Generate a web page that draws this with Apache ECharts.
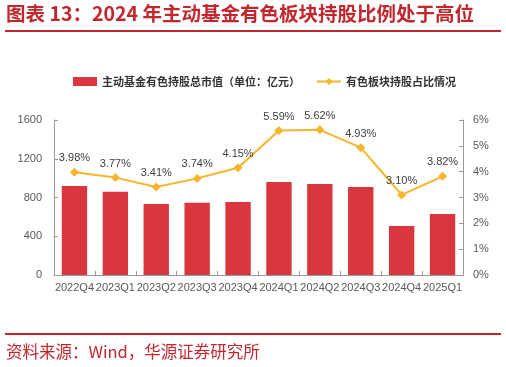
<!DOCTYPE html>
<html><head><meta charset="utf-8">
<script src="https://cdn.jsdelivr.net/npm/echarts@6/dist/echarts.min.js"></script>
<style>html,body{margin:0;padding:0;background:#fff}#c{width:506px;height:367px}</style>
</head><body><div id="c"></div>
<script>
const categories = ['2022Q4','2023Q1','2023Q2','2023Q3','2023Q4','2024Q1','2024Q2','2024Q3','2024Q4','2025Q1'];
const marketValue = [918, 860, 733, 746, 753, 960, 940, 908, 506, 630];
const sharePct = [3.98, 3.77, 3.41, 3.74, 4.15, 5.59, 5.62, 4.93, 3.10, 3.82];
const leftTicks = [0, 400, 800, 1200, 1600];
const rightTicks = [0, 1, 2, 3, 4, 5, 6];

const chart = echarts.init(document.getElementById('c'));
const red = '#d9363e', gold = '#f7b52c', dark = '#c1272d';
chart.setOption({
  animation: false,
  textStyle: {fontFamily: 'Arial, "Noto Sans CJK SC", sans-serif'},
  graphic: [
    {type:'text', left: 6, top: 4, style:{text:'图表 13：2024 年主动基金有色板块持股比例处于高位', fill: dark, font:'bold 19.5px "Noto Sans CJK SC", sans-serif'}},
    {type:'rect', shape:{x:5, y:30, width:496, height:2}, style:{fill: dark}},
    {type:'rect', shape:{x:5, y:333, width:496, height:2}, style:{fill: dark}},
    {type:'text', left: 6, top: 343, style:{text:'资料来源：Wind，华源证券研究所', fill: dark, font:'16.5px "Noto Sans CJK SC", sans-serif'}}
  ],
  legend: {
    top: 71, left: 68, itemGap: 16, itemWidth: 24, itemHeight: 9,
    textStyle: {fontSize: 11, color: '#333', fontWeight: 'bold', fontFamily:'"Noto Sans CJK SC", sans-serif'},
    data: [{name:'主动基金有色持股总市值（单位：亿元）', icon:'rect'}, {name:'有色板块持股占比情况'}]
  },
  grid: {left: 54, right: 43, top: 120, bottom: 92},
  xAxis: {
    type: 'category', data: categories,
    axisLine: {lineStyle: {color: '#999'}},
    axisTick: {show: true, inside: true, length: 4, lineStyle:{color:'#999'}},
    axisLabel: {color: '#595959', fontSize: 11, interval: 0, margin: 7}
  },
  yAxis: [
    {type:'value', min: 0, max: 1600, interval: 400, splitLine:{show:false},
     axisLine:{show:true, lineStyle:{color:'#999'}}, axisTick:{show:true, inside:true, length:4, lineStyle:{color:'#999'}},
     axisLabel:{color:'#595959', fontSize: 11, margin: 12, formatter: v => String(v)}},
    {type:'value', min: 0, max: 6, interval: 1, splitLine:{show:false},
     axisLine:{show:true, lineStyle:{color:'#999'}}, axisTick:{show:true, inside:true, length:4, lineStyle:{color:'#999'}},
     axisLabel:{color:'#595959', fontSize: 11, margin: 10, formatter: v => v + '%'}}
  ],
  series: [
    {name:'主动基金有色持股总市值（单位：亿元）', type:'bar', data: marketValue, barWidth: '62%',
     itemStyle:{color: red}},
    {name:'有色板块持股占比情况', type:'line', yAxisIndex: 1, data: sharePct,
     symbol:'diamond', symbolSize: 9, itemStyle:{color: gold}, lineStyle:{color: gold, width: 2},
     label:{show:true, position:'top', distance: 4, color:'#404040', fontSize: 11, formatter: p => p.value.toFixed(2) + '%'}}
  ]
});
</script></body></html>
